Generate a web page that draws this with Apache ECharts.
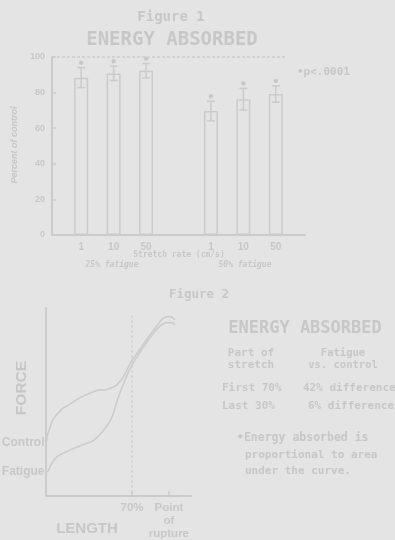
<!DOCTYPE html>
<html><head><meta charset="utf-8">
<script src="https://cdn.jsdelivr.net/npm/echarts@6/dist/echarts.min.js"></script>
<style>html,body{margin:0;padding:0;background:#e4e4e4}#c{width:395px;height:540px}</style>
</head><body><div id="c"></div>
<script>
// ---- Figure 1 data ----
const rateLabels = ['1', '10', '50', '1', '10', '50'];
const slotPositions = [0, 1, 2, 4, 5, 6];
const meanPercent = [88.4, 90.8, 92.3, 69.6, 76.3, 79.2];
const errPercent = [5.6, 4.0, 4.0, 5.5, 6.1, 4.6];
const percentTicks = [0, 20, 40, 60, 80, 100];
// ---- Figure 2 data (length as % of rupture, force arbitrary) ----
const controlLength = [0.4, 1.2, 3.3, 5.7, 8.7, 14.1, 16.8, 25.0, 30.4, 35.8, 43.9, 48.0, 52.1, 57.5, 62.9, 69.7, 73.8, 81.9, 90.1, 95.5, 100.9, 105.0];
const controlForce  = [28.6, 32.3, 36.5, 40.6, 43.4, 46.9, 47.8, 51.2, 53.1, 54.7, 56.4, 56.4, 57.3, 59.0, 63.4, 72.0, 75.5, 83.3, 90.3, 94.6, 95.5, 93.8];
const fatigueLength = [0.4, 1.9, 3.3, 4.6, 8.7, 14.6, 22.2, 30.1, 38.5, 46.6, 53.5, 58.6, 64.3, 69.7, 76.5, 84.6, 92.8, 98.2, 102.5, 105.0];
const fatigueForce  = [13.0, 13.5, 15.6, 17.3, 20.8, 22.9, 25.2, 27.3, 29.5, 34.7, 41.7, 52.1, 61.6, 69.4, 76.4, 84.2, 90.3, 92.3, 92.2, 91.1];
const lengthMarks = [70, 100];
const lengthMarkLabels = ['70%', 'Point\nof\nrupture'];

const ink = '#c7c7c7';
const lineInk = '#cbcbcb';
const mono = "'DejaVu Sans Mono', monospace";
const sans = "'Liberation Sans', Arial, sans-serif";

const chart = echarts.init(document.getElementById('c'), null, {renderer: 'canvas'});

function txt(text, x, y, size, opts) {
  opts = opts || {};
  return {
    type: 'text', silent: true,
    x: x, y: y, rotation: opts.rotation || 0,
    style: {
      text: text, fill: ink,
      font: (opts.italic ? 'italic ' : '') + 'bold ' + size + 'px ' + (opts.family || mono),
      align: opts.align || 'center', verticalAlign: 'middle',
      lineHeight: opts.lineHeight
    }
  };
}

const option = {
  backgroundColor: '#e4e4e4',
  animation: false,
  grid: [
    {left: 52, top: 57, width: 253, height: 178},
    {left: 46, top: 308, width: 145, height: 192}
  ],
  xAxis: [
    {
      gridIndex: 0, type: 'value', min: -0.9, max: 6.9,
      axisLine: {onZero: false, lineStyle: {color: lineInk, width: 2}},
      axisTick: {show: false},
      splitLine: {show: false},
      axisLabel: {
        customValues: slotPositions,
        formatter: v => rateLabels[slotPositions.indexOf(v)],
        color: ink, fontSize: 10, fontWeight: 'bold', fontFamily: sans, margin: 7
      }
    },
    {
      gridIndex: 1, type: 'value', min: 0, max: 118,
      axisLine: {onZero: false, lineStyle: {color: lineInk, width: 2}},
      axisTick: {customValues: lengthMarks, inside: true, length: 5, lineStyle: {color: lineInk, width: 1.5}},
      splitLine: {show: false},
      axisLabel: {
        customValues: lengthMarks,
        formatter: v => lengthMarkLabels[lengthMarks.indexOf(v)],
        color: ink, fontSize: 11.5, fontWeight: 'bold', fontFamily: sans, margin: 5, lineHeight: 13,
        verticalAlign: 'top'
      }
    }
  ],
  yAxis: [
    {
      gridIndex: 0, type: 'value', min: 0, max: 100, interval: 20,
      axisLine: {show: true, onZero: false, lineStyle: {color: lineInk, width: 2}},
      axisTick: {show: true, inside: true, length: 4, lineStyle: {color: lineInk, width: 1.5}},
      splitLine: {show: false},
      axisLabel: {color: ink, fontSize: 9, fontWeight: 'bold', fontFamily: sans, margin: 7}
    },
    {
      gridIndex: 1, type: 'value', min: 0, max: 100,
      axisLine: {show: true, onZero: false, lineStyle: {color: lineInk, width: 2}},
      axisTick: {show: false}, axisLabel: {show: false}, splitLine: {show: false}
    }
  ],
  series: [
    {
      type: 'bar', xAxisIndex: 0, yAxisIndex: 0,
      data: slotPositions.map((p, i) => [p, meanPercent[i]]),
      barWidth: 14,
      itemStyle: {color: 'rgba(0,0,0,0)', borderColor: lineInk, borderWidth: 1.5},
      markLine: {
        silent: true, symbol: 'none', label: {show: false},
        lineStyle: {color: lineInk, width: 1.5, type: [3, 2]},
        data: [[{coord: [-0.9, 100]}, {coord: [6.3, 100]}]]
      }
    },
    {
      type: 'custom', xAxisIndex: 0, yAxisIndex: 0,
      data: slotPositions.map((p, i) => [p, meanPercent[i] - errPercent[i], meanPercent[i] + errPercent[i]]),
      encode: {x: 0, y: [1, 2]},
      renderItem: function (params, api) {
        const x = api.value(0);
        const lo = api.coord([x, api.value(1)]);
        const hi = api.coord([x, api.value(2)]);
        const st = {stroke: lineInk, lineWidth: 1.5};
        return {
          type: 'group',
          children: [
            {type: 'line', shape: {x1: lo[0], y1: lo[1], x2: hi[0], y2: hi[1]}, style: st},
            {type: 'line', shape: {x1: hi[0] - 4, y1: hi[1], x2: hi[0] + 4, y2: hi[1]}, style: st},
            {type: 'line', shape: {x1: lo[0] - 4, y1: lo[1], x2: lo[0] + 4, y2: lo[1]}, style: st},
            {type: 'circle', shape: {cx: hi[0], cy: hi[1] - 5, r: 2.2}, style: {fill: ink}}
          ]
        };
      }
    },
    {
      type: 'line', xAxisIndex: 1, yAxisIndex: 1,
      data: controlLength.map((x, i) => [x, controlForce[i]]),
      smooth: 0.3, showSymbol: false,
      lineStyle: {color: lineInk, width: 1.5},
      markPoint: {
        symbol: 'circle', symbolSize: 0, silent: true,
        label: {show: true, position: 'left', distance: 2, formatter: 'Control', color: ink,
          fontSize: 12, fontWeight: 'bold', fontFamily: sans},
        data: [{coord: [controlLength[0], controlForce[0]]}]
      },
      markLine: {
        silent: true, symbol: 'none', label: {show: false},
        lineStyle: {color: lineInk, width: 1.5, type: [2, 3]},
        data: [[{coord: [lengthMarks[0], 96]}, {coord: [lengthMarks[0], 0]}]]
      }
    },
    {
      type: 'line', xAxisIndex: 1, yAxisIndex: 1,
      data: fatigueLength.map((x, i) => [x, fatigueForce[i]]),
      smooth: 0.3, showSymbol: false,
      lineStyle: {color: lineInk, width: 1.5},
      markPoint: {
        symbol: 'circle', symbolSize: 0, silent: true,
        label: {show: true, position: 'left', distance: 2, formatter: 'Fatigue', color: ink,
          fontSize: 12, fontWeight: 'bold', fontFamily: sans},
        data: [{coord: [fatigueLength[0], fatigueForce[0]]}]
      }
    }
  ],
  graphic: [
    txt('Figure 1', 171, 17, 14),
    txt('ENERGY ABSORBED', 172, 40, 19),
    txt('Percent of control', 15, 145, 9, {rotation: Math.PI / 2, italic: true, family: sans}),
    txt('\u2022p<.0001', 297, 72, 11, {align: 'left'}),
    txt('Stretch rate (cm/s)', 179, 255, 8),
    txt('25% fatigue', 112, 265, 8, {italic: true}),
    txt('50% fatigue', 245, 265, 8, {italic: true}),
    txt('Figure 2', 199, 295, 12.5),
    txt('FORCE', 22, 388, 15.5, {rotation: Math.PI / 2, family: sans}),
    txt('LENGTH', 87, 529, 15, {family: sans}),
    txt('ENERGY ABSORBED', 305, 329, 17),
    txt('Part of\nstretch', 251, 359, 11, {lineHeight: 12}),
    txt('Fatigue\nvs. control', 343, 359, 10.5, {lineHeight: 12}),
    txt('First 70%', 222, 388, 11, {align: 'left'}),
    txt('42% difference', 303, 388, 11, {align: 'left'}),
    txt('Last 30%', 222, 406, 11, {align: 'left'}),
    txt('6% difference', 308, 406, 11, {align: 'left'}),
    txt('\u2022Energy absorbed is', 237, 438, 11.5, {align: 'left'}),
    txt('proportional to area', 245, 455, 11, {align: 'left'}),
    txt('under the curve.', 245, 471, 11, {align: 'left'})
  ]
};
chart.setOption(option);
</script>
</body></html>
